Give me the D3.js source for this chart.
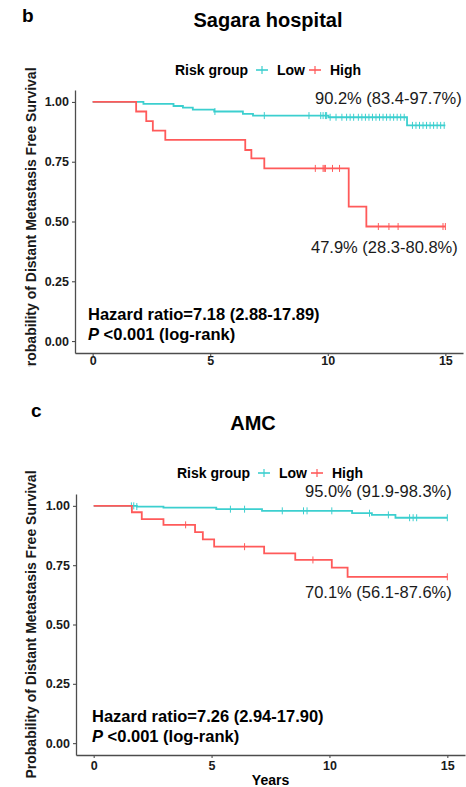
<!DOCTYPE html>
<html>
<head>
<meta charset="utf-8">
<script src="https://cdn.jsdelivr.net/npm/d3@7"></script>
<style>
  body { margin: 0; background: #fff; }
  svg { display: block; font-family: "Liberation Sans", Arial, sans-serif; }
</style>
</head>
<body>
<svg id="drawing_region"></svg>
<script>
// Sagara hospital: step times (years) and survival after each step
var sagaraLowTimes = [2.16, 3.44, 3.84, 4.26, 5.17, 6.39, 6.82, 10.03, 13.37];
var sagaraLowSurv  = [0.992, 0.983, 0.976, 0.968, 0.960, 0.950, 0.943, 0.936, 0.902];
var sagaraLowCensor = [5.2, 7.3, 9.2, 9.7, 9.8, 9.9, 9.95, 10.1, 10.35, 10.6, 10.8, 10.95, 11.1, 11.3,
    11.45, 11.6, 11.75, 11.9, 12.05, 12.2, 12.35, 12.5, 12.65, 12.8, 12.95, 13.1, 13.25,
    13.6, 13.75, 13.9, 14.05, 14.2, 14.35, 14.5, 14.65, 14.8, 14.95];
var sagaraHighTimes = [1.85, 2.28, 2.56, 3.09, 6.49, 6.75, 7.30, 10.89, 11.64];
var sagaraHighSurv  = [0.960, 0.920, 0.880, 0.841, 0.799, 0.764, 0.722, 0.562, 0.479];
var sagaraHighCensor = [9.47, 9.8, 9.85, 9.9, 10.2, 10.5, 12.15, 12.6, 12.99, 14.9, 15.0];

// AMC
var amcLowTimes = [1.83, 2.96, 5.2, 7.14, 10.96, 11.8, 12.8];
var amcLowSurv  = [0.997, 0.993, 0.986, 0.979, 0.969, 0.962, 0.950];
var amcLowCensor = [1.6, 1.7, 1.83, 5.8, 6.4, 8.0, 8.9, 9.05, 10.1, 11.7, 12.5, 13.4, 13.55, 13.7, 15.0];
var amcHighTimes = [1.62, 2.04, 2.96, 4.3, 4.63, 5.11, 7.23, 8.55, 10.1, 10.77];
var amcHighSurv  = [0.973, 0.944, 0.920, 0.889, 0.859, 0.828, 0.800, 0.772, 0.740, 0.701];
var amcHighCensor = [3.9, 6.4, 9.3, 15.0];

var xTicks = [0, 5, 10, 15];
var yTicks = [0, 0.25, 0.5, 0.75, 1];
var groups = ['Low', 'High'];

var lowColor = '#3ccfcf';
var highColor = '#ff5a5a';

var svg = d3.select('#drawing_region')
    .attr('width', 466)
    .attr('height', 787);

svg.append('defs').append('clipPath')
    .attr('id', 'topclip')
    .append('rect')
    .attr('x', 0).attr('y', 0).attr('width', 466).attr('height', 367);

function survAt(times, surv, t) {
    var s = 1;
    for (var i = 0; i < times.length; i++) {
        if (times[i] <= t) s = surv[i];
    }
    return s;
}

function drawPanel(p) {
    var x = d3.scaleLinear().domain([-0.75, 15.75]).range([p.left, p.right]);
    var y = d3.scaleLinear().domain([-0.05, 1.05]).range([p.bottom, p.top]);

    // letter and title
    svg.append('text').attr('x', p.letterX).attr('y', p.letterY)
        .text(p.letter).style('font-size', '19px').style('font-weight', 'bold');
    svg.append('text').attr('x', p.titleX).attr('y', p.titleY)
        .attr('text-anchor', 'middle')
        .text(p.title).style('font-size', '20px').style('font-weight', 'bold');

    // legend
    var lg = svg.append('g').style('font-size', '14px').style('font-weight', 'bold');
    lg.append('text').attr('x', p.legendX).attr('y', p.legendY).text('Risk group');
    var lx = [p.legendX + 87, p.legendX + 140];
    var cols = [lowColor, highColor];
    groups.forEach(function(g, i) {
        lg.append('line').attr('x1', lx[i] - 6).attr('x2', lx[i] + 6)
            .attr('y1', p.legendY - 5).attr('y2', p.legendY - 5)
            .attr('stroke', cols[i]).attr('stroke-width', 1.6);
        lg.append('line').attr('x1', lx[i]).attr('x2', lx[i])
            .attr('y1', p.legendY - 9).attr('y2', p.legendY - 1)
            .attr('stroke', cols[i]).attr('stroke-width', 1.2);
        lg.append('text').attr('x', lx[i] + 15).attr('y', p.legendY).text(g);
    });

    // axes
    var ax = svg.append('g').attr('transform', `translate(0, ${p.bottom})`)
        .call(d3.axisBottom(x).tickValues(xTicks).tickSize(3).tickSizeOuter(0).tickPadding(4));
    var ay = svg.append('g').attr('transform', `translate(${p.left}, 0)`)
        .call(d3.axisLeft(y).tickValues(yTicks).tickFormat(d3.format('.2f')).tickSize(3).tickSizeOuter(0).tickPadding(3));
    [ax, ay].forEach(function(a) {
        a.select('.domain').attr('stroke', '#4d4d4d').attr('stroke-width', 1.3);
        a.selectAll('.tick line').attr('stroke', '#4d4d4d').attr('stroke-width', 1.1);
        a.selectAll('.tick text').attr('fill', '#1a1a1a')
            .style('font-size', '12.5px').style('font-weight', 'bold')
            .style('font-family', '"Liberation Sans", Arial, sans-serif');
    });
    ax.selectAll('.tick text').attr('dy', null).attr('y', p.xTickBaseline - p.bottom);

    if (p.xTitle) {
        svg.append('text').attr('x', (x(0) + x(15)) / 2).attr('y', p.xTitleY)
            .attr('text-anchor', 'middle').text(p.xTitle)
            .style('font-size', '14px').style('font-weight', 'bold');
    }

    var yl = svg.append('text')
        .attr('transform', `translate(36, ${(y(0) + y(1)) / 2}) rotate(-90)`)
        .attr('text-anchor', 'middle')
        .text('Probability of Distant Metastasis Free Survival')
        .style('font-size', '14px').style('font-weight', 'bold').style('fill', '#1a1a1a');
    if (p.clip) yl.attr('clip-path', null);

    // curves
    var line = d3.line().curve(d3.curveStepAfter)
        .x(d => x(d[0])).y(d => y(d[1]));
    p.series.forEach(function(s) {
        var pts = [[0, 1]];
        s.times.forEach(function(t, i) { pts.push([t, s.surv[i]]); });
        pts.push([15, s.surv[s.surv.length - 1]]);
        svg.append('path').datum(pts)
            .attr('d', line)
            .attr('fill', 'none')
            .attr('stroke', s.color)
            .attr('stroke-width', 1.8);
        svg.selectAll(null)
            .data(s.censor)
            .enter()
            .append('line')
            .attr('x1', d => x(d)).attr('x2', d => x(d))
            .attr('y1', d => y(survAt(s.times, s.surv, d)) - 3.5)
            .attr('y2', d => y(survAt(s.times, s.surv, d)) + 3.5)
            .attr('stroke', s.color)
            .attr('stroke-width', 1);
    });

    // annotations
    svg.append('text').attr('x', p.lowLabelX).attr('y', p.lowLabelY)
        .text(p.lowLabel).style('font-size', '16.5px').style('fill', '#1a1a1a');
    svg.append('text').attr('x', p.highLabelX).attr('y', p.highLabelY)
        .text(p.highLabel).style('font-size', '16.5px').style('fill', '#1a1a1a');

    var hr = svg.append('g').style('font-size', '16.5px').style('font-weight', 'bold');
    hr.append('text').attr('x', p.hrX).attr('y', p.hrY).text(p.hr);
    var pt = hr.append('text').attr('x', p.hrX).attr('y', p.hrY + 19.5);
    pt.append('tspan').style('font-style', 'italic').text('P');
    pt.append('tspan').text(' <0.001 (log-rank)');

    return yl;
}

var topLabel = drawPanel({
    letter: 'b', letterX: 22, letterY: 22,
    title: 'Sagara hospital', titleX: 268, titleY: 27,
    legendX: 175, legendY: 75,
    left: 75, right: 463, top: 90, bottom: 353,
    xTickBaseline: 365,
    lowLabel: '90.2% (83.4-97.7%)', lowLabelX: 315, lowLabelY: 104,
    highLabel: '47.9% (28.3-80.8%)', highLabelX: 311, highLabelY: 253,
    hr: 'Hazard ratio=7.18 (2.88-17.89)', hrX: 88, hrY: 320,
    series: [
        {times: sagaraLowTimes, surv: sagaraLowSurv, censor: sagaraLowCensor, color: lowColor},
        {times: sagaraHighTimes, surv: sagaraHighSurv, censor: sagaraHighCensor, color: highColor}
    ]
});
topLabel.attr('clip-path', null);
// clip the top y label where the reference panel was cut
svg.append('g').attr('clip-path', 'url(#topclip)').node().appendChild(topLabel.node());

drawPanel({
    letter: 'c', letterX: 31, letterY: 417,
    title: 'AMC', titleX: 253, titleY: 430,
    legendX: 177, legendY: 478,
    left: 76, right: 465, top: 494, bottom: 755,
    xTickBaseline: 770,
    xTitle: 'Years', xTitleY: 785,
    lowLabel: '95.0% (91.9-98.3%)', lowLabelX: 305, lowLabelY: 497,
    highLabel: '70.1% (56.1-87.6%)', highLabelX: 305, highLabelY: 598,
    hr: 'Hazard ratio=7.26 (2.94-17.90)', hrX: 92, hrY: 722,
    series: [
        {times: amcLowTimes, surv: amcLowSurv, censor: amcLowCensor, color: lowColor},
        {times: amcHighTimes, surv: amcHighSurv, censor: amcHighCensor, color: highColor}
    ]
});
</script>
</body>
</html>
